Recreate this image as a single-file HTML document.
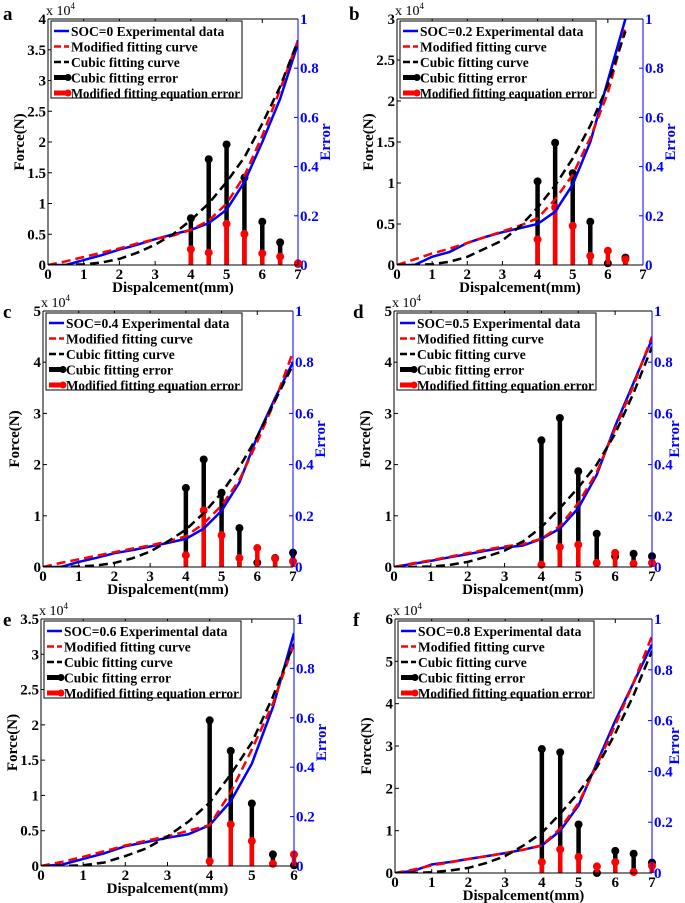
<!DOCTYPE html>
<html><head><meta charset="utf-8">
<style>
body{margin:0;background:#fff;}
svg{display:block;font-family:"Liberation Serif",serif;font-weight:bold;}
</style></head>
<body>
<svg id="fig" width="685" height="903" viewBox="0 0 685 903" xmlns="http://www.w3.org/2000/svg"></svg>
<script>
// Shared x grid (mm)
const xsA = [0,0.5,1,1.5,2,2.5,3,3.5,4,4.5,5,5.5,6,6.5,7];
const errX7 = [4,4.5,5,5.5,6,6.5,7];
// Panel a (SOC=0)
const aExp = [0,0,0.08,0.16,0.25,0.33,0.42,0.5,0.57,0.68,0.9,1.35,2.0,2.7,3.6];
const aMod = [0,0.06,0.13,0.2,0.27,0.35,0.42,0.48,0.57,0.72,1.0,1.45,2.1,2.85,3.65];
const aCub = [0,0,0.01,0.04,0.1,0.2,0.33,0.5,0.73,1.0,1.35,1.75,2.3,2.9,3.65];
const aErrC = [0.19,0.43,0.49,0.355,0.176,0.092,0.005];
const aErrM = [0.064,0.05,0.167,0.126,0.047,0.034,0.007];
// Panel b (SOC=0.2)
const xsB = [0,0.5,1,1.5,2,2.5,3,3.5,4,4.5,5,5.5,6,6.5];
const bExp = [0,0,0.1,0.16,0.27,0.34,0.4,0.45,0.5,0.65,0.98,1.5,2.25,3.0];
const bMod = [0,0.07,0.14,0.2,0.27,0.34,0.41,0.48,0.57,0.8,1.1,1.55,2.1,2.9];
const bCub = [0,0,0.01,0.04,0.1,0.2,0.3,0.47,0.7,0.97,1.3,1.7,2.2,2.85];
const errXB = [4,4.5,5,5.5,6,6.5];
const bErrC = [0.34,0.497,0.373,0.176,0.007,0.03];
const bErrM = [0.104,0.234,0.159,0.037,0.058,0.023];
// Panel c (SOC=0.4)
const cExp = [0,0,0.1,0.18,0.27,0.33,0.4,0.47,0.55,0.75,1.1,1.65,2.55,3.3,4.0];
const cMod = [0,0.08,0.15,0.22,0.29,0.36,0.42,0.5,0.6,0.85,1.2,1.7,2.45,3.25,4.2];
const cCub = [0,0,0.01,0.03,0.08,0.17,0.3,0.5,0.73,1.05,1.45,1.95,2.55,3.25,3.95];
const cErrC = [0.309,0.42,0.29,0.152,0.017,0.035,0.056];
const cErrM = [0.046,0.221,0.124,0.035,0.074,0.033,0.022];
// Panel d (SOC=0.5)
const dExp = [0,0.06,0.12,0.19,0.25,0.32,0.38,0.42,0.55,0.75,1.15,1.8,2.75,3.6,4.45];
const dMod = [0,0.07,0.13,0.2,0.27,0.34,0.4,0.45,0.55,0.8,1.25,1.85,2.7,3.55,4.5];
const dCub = [0,0,0.01,0.04,0.1,0.2,0.32,0.5,0.78,1.15,1.55,2.0,2.6,3.4,4.3];
const dErrC = [0.495,0.582,0.374,0.13,0.042,0.052,0.042];
const dErrM = [0.009,0.078,0.087,0.016,0.055,0.013,0.016];
// Panel e (SOC=0.6)
const xsE = [0,0.5,1,1.5,2,2.5,3,3.5,4,4.5,5,5.5,6];
const eExp = [0,0.02,0.1,0.18,0.28,0.34,0.4,0.45,0.58,0.92,1.45,2.25,3.3];
const eMod = [0,0.06,0.13,0.21,0.29,0.36,0.42,0.5,0.58,1.05,1.65,2.3,3.15];
const eCub = [0,0,0.01,0.05,0.14,0.25,0.42,0.63,0.9,1.3,1.75,2.4,3.15];
const errXE = [4,4.5,5,5.5,6];
const eErrC = [0.59,0.466,0.253,0.047,0.003];
const eErrM = [0.019,0.168,0.101,0.009,0.047];
// Panel f (SOC=0.8)
const fExp = [0,0.05,0.2,0.26,0.33,0.4,0.47,0.55,0.65,1.0,1.6,2.6,3.6,4.5,5.4];
const fMod = [0,0.08,0.18,0.25,0.33,0.4,0.47,0.55,0.65,1.05,1.65,2.55,3.5,4.5,5.6];
const fCub = [0,0,0.02,0.06,0.12,0.24,0.4,0.65,0.95,1.4,1.9,2.5,3.3,4.2,5.25];
const fErrC = [0.488,0.475,0.191,0,0.087,0.076,0.041];
const fErrM = [0.043,0.093,0.063,0.026,0.043,0.004,0.028];

const yTicksA = ["0","0.5","1","1.5","2","2.5","3","3.5","4"];
const yTicksB = ["0","0.5","1","1.5","2","2.5","3"];
const yTicksC = ["0","1","2","3","4","5"];
const yTicksE = ["0","0.5","1","1.5","2","2.5","3","3.5"];
const yTicksF = ["0","1","2","3","4","5","6"];
const errTicks = ["0","0.2","0.4","0.6","0.8","1"];

const NS="http://www.w3.org/2000/svg";
const svg=document.getElementById('fig');
function mk(tag,attrs,parent){const e=document.createElementNS(NS,tag);for(const k in attrs)e.setAttribute(k,attrs[k]);(parent||svg).appendChild(e);return e;}

const panels=[
 {id:'a',L:48,R:298,T:19,B:265,xmax:7,ymax:4,yt:yTicksA,xs:xsA,exp:aExp,mod:aMod,cub:aCub,ex:errX7,ec:aErrC,em:aErrM,soc:"SOC=0",last:"Modified fitting equation error",lw:191,lx:3,ly:20},
 {id:'b',L:397,R:643,T:19,B:265,xmax:7,ymax:3,yt:yTicksB,xs:xsB,exp:bExp,mod:bMod,cub:bCub,ex:errXB,ec:bErrC,em:bErrM,soc:"SOC=0.2",last:"Modified fitting eaquation error",lw:196,lx:349,ly:20},
 {id:'c',L:43,R:293,T:311,B:567,xmax:7,ymax:5,yt:yTicksC,xs:xsA,exp:cExp,mod:cMod,cub:cCub,ex:errX7,ec:cErrC,em:cErrM,soc:"SOC=0.4",last:"Modified fitting equation error",lw:196,lx:3,ly:318},
 {id:'d',L:394,R:652,T:311,B:567,xmax:7,ymax:5,yt:yTicksC,xs:xsA,exp:dExp,mod:dMod,cub:dCub,ex:errX7,ec:dErrC,em:dErrM,soc:"SOC=0.5",last:"Modified fitting equation error",lw:199,lx:353,ly:318},
 {id:'e',L:41,R:294,T:619,B:866,xmax:6,ymax:3.5,yt:yTicksE,xs:xsE,exp:eExp,mod:eMod,cub:eCub,ex:errXE,ec:eErrC,em:eErrM,soc:"SOC=0.6",last:"Modified fitting equation error",lw:197,lx:3,ly:626},
 {id:'f',L:395,R:652,T:619,B:873,xmax:7,ymax:6,yt:yTicksF,xs:xsA,exp:fExp,mod:fMod,cub:fCub,ex:errX7,ec:fErrC,em:fErrM,soc:"SOC=0.8",last:"Modified fitting equation error",lw:196,lx:353,ly:626}
];

panels.forEach(p=>{
 const g=mk('g',{});
 
 
 const xS=v=>p.L+(p.R-p.L)*v/p.xmax;
 const yS=v=>p.B-(p.B-p.T)*v/p.ymax;
 const eS=v=>p.B-(p.B-p.T)*v;
 const lt=mk('text',{x:p.lx,y:p.ly,'font-size':19},g);lt.textContent=p.id;
 
 
 const cp=mk('clipPath',{id:'clip'+p.id},g);mk('rect',{x:p.L,y:p.T-2,width:p.R-p.L,height:p.B-p.T+2},cp);
 for(let i=0;i<=p.xmax;i++){
  const x=xS(i);
  mk('line',{x1:x,y1:p.B,x2:x,y2:p.B-4,stroke:'#000','stroke-width':1},g);
  mk('line',{x1:x,y1:p.T,x2:x,y2:p.T+4,stroke:'#000','stroke-width':1},g);
  const t=mk('text',{x:x,y:p.B+14,'font-size':15,'text-anchor':'middle'},g);t.textContent=String(i);
  
  
 }
 p.yt.forEach(s=>{
  const y=yS(parseFloat(s));
  mk('line',{x1:p.L,y1:y,x2:p.L+4,y2:y,stroke:'#000','stroke-width':1},g);
  const t=mk('text',{x:p.L-2,y:y+5,'font-size':15,'text-anchor':'end'},g);t.textContent=s;
  
  
 });
 errTicks.forEach(s=>{
  const y=eS(parseFloat(s));
  mk('line',{x1:p.R,y1:y,x2:p.R-4,y2:y,stroke:'#00f','stroke-width':1},g);
  const t=mk('text',{x:p.R+2,y:y+5,'font-size':15,fill:'#00f'},g);t.textContent=s;
  
  
 });
 const ex=mk('text',{x:p.L-2,y:p.T-4,'font-size':14,'font-weight':'normal'},g);
 ex.innerHTML='x 10<tspan dy="-6" font-size="9">4</tspan>';
 
 
 const xt=mk('text',{x:(p.L+p.R)/2,y:p.B+27,'font-size':15,'text-anchor':'middle'},g);xt.textContent='Dispalcement(mm)';
 
 
 const yc=(p.T+p.B)/2;
 const yt=mk('text',{x:0,y:0,'font-size':15,'text-anchor':'middle',transform:`translate(${p.L-24},${yc}) rotate(-90)`},g);yt.textContent='Force(N)';
 
 
 const etx=Math.min(p.R+32,679);
 const et=mk('text',{x:0,y:0,'font-size':15,fill:'#00f','text-anchor':'middle',transform:`translate(${etx},${yc}) rotate(-90)`},g);et.textContent='Error';
 
 
 p.ex.forEach((xv,i)=>{
  const x=xS(xv);
  const bs=mk('line',{x1:x,y1:p.B,x2:x,y2:eS(p.ec[i]),stroke:'#000','stroke-width':4.5},g);
  
  
  const bc=mk('circle',{cx:x,cy:eS(p.ec[i]),r:4,fill:'#000'},g);
  
  
 });
 p.ex.forEach((xv,i)=>{
  const x=xS(xv);
  const rs=mk('line',{x1:x,y1:p.B,x2:x,y2:eS(p.em[i]),stroke:'#f00','stroke-width':4.5},g);
  
  
  const rc=mk('circle',{cx:x,cy:eS(p.em[i]),r:4,fill:'#f00'},g);
  
  
 });
 const pts=arr=>arr.map((v,i)=>xS(p.xs[i]).toFixed(1)+','+yS(v).toFixed(1)).join(' ');
 const ce=mk('polyline',{points:pts(p.exp),fill:'none',stroke:'#00f','stroke-width':2.5,'clip-path':`url(#clip${p.id})`},g);
 
 
 const cm=mk('polyline',{points:pts(p.mod),fill:'none',stroke:'#f00','stroke-width':2.5,'stroke-dasharray':'9,5','clip-path':`url(#clip${p.id})`},g);
 
 
 const cc=mk('polyline',{points:pts(p.cub),fill:'none',stroke:'#000','stroke-width':2.5,'stroke-dasharray':'9,5','clip-path':`url(#clip${p.id})`},g);
 
 
 mk('line',{x1:p.L,y1:p.T,x2:p.R,y2:p.T,stroke:'#000','stroke-width':1},g);
 mk('line',{x1:p.L,y1:p.B,x2:p.R,y2:p.B,stroke:'#000','stroke-width':1},g);
 mk('line',{x1:p.L,y1:p.T,x2:p.L,y2:p.B,stroke:'#000','stroke-width':1},g);
 mk('line',{x1:p.R,y1:p.T,x2:p.R,y2:p.B,stroke:'#00f','stroke-width':1},g);
 const lg=mk('g',{},g);
 
 
 const lx=p.L+3, ly=p.T+2;
 mk('rect',{x:lx,y:ly,width:p.lw,height:77,fill:'#fff',stroke:'#000','stroke-width':1},lg);
 const items=[
  {t:p.soc+' Experimental data',c:'#00f',d:null,m:false},
  {t:'Modified fitting curve',c:'#f00',d:'7,3',m:false},
  {t:'Cubic fitting curve',c:'#000',d:'7,3',m:false},
  {t:'Cubic fitting error',c:'#000',d:null,m:true},
  {t:p.last,c:'#f00',d:null,m:true}];
 items.forEach((it,i)=>{
  const y=ly+10+i*15.5;
  const ln=mk('line',{x1:lx+3,y1:y,x2:lx+18,y2:y,stroke:it.c,'stroke-width':it.m?5:2.5},lg);
  if(it.d)ln.setAttribute('stroke-dasharray',it.d);
  if(it.m)mk('circle',{cx:lx+17,cy:y,r:3.5,fill:it.c},lg);
  const t=mk('text',{x:lx+20,y:y+5,'font-size':13.5},lg);t.textContent=it.t;
  
  
  const avail=p.lw-22;
  if(t.getComputedTextLength()>avail){t.setAttribute('textLength',avail);t.setAttribute('lengthAdjust','spacingAndGlyphs');}
 });
});
</script>
</body></html>
